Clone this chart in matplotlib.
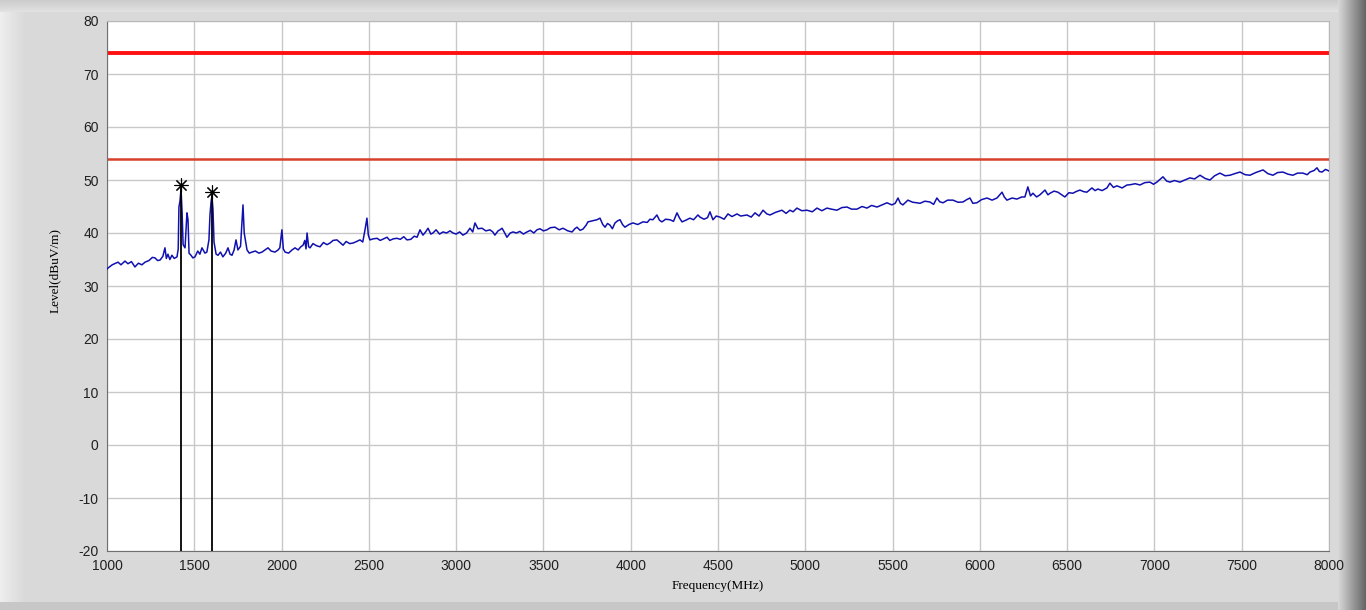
import numpy as np
import matplotlib
matplotlib.use("Agg")
import matplotlib.pyplot as plt

plt.rcParams["axes.unicode_minus"] = False

freq = [
    1000, 1006, 1030, 1063, 1080, 1103, 1120, 1140, 1160, 1180, 1200, 1218, 1240, 1260,
    1275, 1290, 1304, 1320, 1332, 1340, 1349, 1360, 1372, 1385, 1401, 1408, 1412, 1418,
    1424, 1430, 1436, 1447, 1458, 1464, 1470, 1481, 1492, 1504, 1520, 1532, 1544, 1561,
    1572, 1584, 1590, 1596, 1601, 1607, 1613, 1625, 1636, 1650, 1664, 1680, 1693, 1705,
    1716, 1728, 1739, 1750, 1765, 1773, 1779, 1786, 1802, 1815, 1831, 1850, 1870, 1888,
    1905, 1922, 1940, 1962, 1980, 1990, 2002, 2010, 2020, 2040, 2060, 2077, 2095, 2110,
    2123, 2133, 2140, 2146, 2155, 2163, 2180, 2200, 2220, 2240, 2260, 2277, 2295, 2317,
    2335, 2352, 2370, 2390, 2409, 2430, 2449, 2465, 2478, 2489, 2497, 2506, 2525, 2547,
    2565, 2585, 2604, 2620, 2640, 2661, 2680, 2700, 2718, 2740, 2760, 2776, 2793, 2810,
    2825, 2839, 2855, 2867, 2885, 2905, 2925, 2945, 2965, 2982, 3000, 3020, 3039, 3060,
    3079, 3095, 3108, 3125, 3148, 3170, 3194, 3210, 3222, 3240, 3251, 3263, 3275, 3291,
    3310, 3326, 3345, 3365, 3385, 3406, 3425, 3445, 3463, 3480, 3500, 3520, 3540, 3566,
    3590, 3612, 3640, 3664, 3680, 3692, 3710, 3727, 3745, 3755, 3780, 3807, 3824, 3840,
    3853, 3867, 3881, 3895, 3910, 3925, 3939, 3953, 3967, 3990, 4013, 4040, 4070, 4095,
    4110, 4127, 4150, 4165, 4179, 4200, 4225, 4245, 4265, 4280, 4294, 4315, 4339, 4360,
    4385, 4397, 4420, 4440, 4454, 4471, 4490, 4511, 4535, 4557, 4580, 4609, 4630, 4666,
    4690, 4712, 4735, 4758, 4780, 4798, 4830, 4866, 4890, 4912, 4930, 4952, 4980, 5010,
    5040, 5067, 5095, 5124, 5150, 5181, 5210, 5239, 5265, 5296, 5325, 5353, 5380, 5411,
    5440, 5468, 5496, 5515, 5531, 5545, 5559, 5588, 5615, 5640, 5657, 5685, 5714, 5735,
    5754, 5770, 5789, 5815, 5846, 5875, 5903, 5925, 5943, 5960, 5983, 6010, 6041, 6070,
    6098, 6127, 6140, 6155, 6185, 6212, 6240, 6258, 6275, 6290, 6304, 6325, 6344, 6373,
    6390, 6402, 6425, 6447, 6465, 6487, 6510, 6533, 6550, 6573, 6595, 6613, 6642, 6660,
    6676, 6700, 6728, 6745, 6765, 6785, 6815, 6843, 6860, 6890, 6917, 6945, 6974, 6995,
    7014, 7049, 7070, 7089, 7115, 7146, 7175, 7203, 7230, 7261, 7290, 7318, 7345, 7375,
    7405, 7433, 7460, 7490, 7520, 7547, 7580, 7622, 7650, 7679, 7705, 7736, 7765, 7793,
    7820, 7851, 7875, 7891, 7915, 7931, 7945, 7960, 7980, 8000,
]
level = [
    33.2, 33.4, 34.0, 34.5, 34.0, 34.7, 34.2, 34.6, 33.6, 34.3, 34.0, 34.5, 34.8, 35.4,
    35.3, 34.8, 34.9, 35.6, 37.2, 35.2, 36.0, 35.0, 35.8, 35.2, 35.5, 37.0, 44.9, 46.0,
    48.3, 44.0, 37.8, 37.2, 43.8, 42.5, 36.2, 35.8, 35.3, 35.5, 36.6, 36.0, 37.2, 36.2,
    36.4, 38.7, 43.5, 45.8, 47.0, 44.5, 38.3, 36.0, 35.8, 36.4, 35.5, 36.2, 37.2, 36.0,
    35.8, 36.8, 38.7, 36.8, 37.5, 42.0, 45.3, 40.0, 36.8, 36.2, 36.4, 36.6, 36.2, 36.4,
    36.8, 37.2, 36.6, 36.4, 36.8, 37.2, 40.6, 37.0, 36.4, 36.2, 36.8, 37.2, 36.8, 37.4,
    37.7, 38.6, 37.0, 40.0, 37.4, 37.2, 38.0, 37.6, 37.4, 38.2, 37.8, 38.1, 38.6, 38.7,
    38.2, 37.7, 38.4, 38.0, 38.1, 38.4, 38.7, 38.3, 40.6, 42.8, 39.6, 38.7, 38.9, 39.0,
    38.6, 38.9, 39.2, 38.6, 38.9, 39.0, 38.8, 39.3, 38.7, 38.8, 39.4, 39.2, 40.6, 39.6,
    40.2, 40.9, 39.8, 40.0, 40.6, 39.8, 40.2, 40.0, 40.4, 40.0, 39.8, 40.2, 39.6, 40.0,
    40.9, 40.2, 41.9, 40.8, 40.9, 40.4, 40.6, 40.2, 39.6, 40.4, 40.6, 40.9, 40.2, 39.2,
    40.0, 40.2, 40.0, 40.3, 39.8, 40.2, 40.5, 40.0, 40.6, 40.8, 40.4, 40.6, 41.0, 41.1,
    40.6, 40.9, 40.4, 40.2, 40.8, 41.1, 40.5, 40.75, 41.5, 42.1, 42.3, 42.5, 42.8, 41.6,
    41.1, 41.8, 41.5, 40.8, 41.9, 42.3, 42.5, 41.6, 41.1, 41.6, 41.9, 41.6, 42.1, 42.0,
    42.6, 42.5, 43.4, 42.4, 42.1, 42.6, 42.5, 42.2, 43.8, 42.8, 42.1, 42.4, 42.8, 42.5,
    43.4, 43.0, 42.6, 42.9, 44.0, 42.5, 43.2, 43.0, 42.6, 43.6, 43.1, 43.6, 43.2, 43.4,
    43.0, 43.8, 43.2, 44.3, 43.6, 43.4, 43.9, 44.3, 43.7, 44.3, 44.0, 44.7, 44.2, 44.3,
    44.0, 44.7, 44.2, 44.7, 44.5, 44.3, 44.8, 44.9, 44.5, 44.5, 45.0, 44.7, 45.2, 44.9,
    45.3, 45.7, 45.3, 45.6, 46.6, 45.6, 45.3, 46.2, 45.8, 45.7, 45.6, 46.0, 45.85, 45.4,
    46.6, 45.9, 45.7, 46.2, 46.2, 45.8, 45.85, 46.3, 46.6, 45.6, 45.7, 46.3, 46.6, 46.2,
    46.6, 47.7, 46.8, 46.2, 46.6, 46.4, 46.8, 46.8, 48.7, 47.0, 47.5, 46.8, 47.2, 48.1,
    47.2, 47.5, 47.9, 47.7, 47.3, 46.8, 47.6, 47.5, 47.8, 48.1, 47.8, 47.7, 48.5, 48.0,
    48.3, 48.0, 48.5, 49.4, 48.6, 48.9, 48.5, 49.06, 49.1, 49.3, 49.06, 49.5, 49.6, 49.2,
    49.6, 50.6, 49.8, 49.6, 49.9, 49.6, 50.0, 50.4, 50.2, 50.9, 50.3, 50.0, 50.8, 51.3,
    50.8, 50.9, 51.2, 51.5, 51.0, 50.9, 51.4, 51.9, 51.2, 50.9, 51.4, 51.5, 51.1, 50.9,
    51.3, 51.3, 51.0, 51.5, 51.8, 52.3, 51.6, 51.5, 52.0, 51.7,
]

# limit lines and marked peaks
limit_peak = 74
limit_avg = 54
marker_freq = [1424, 1601]
marker_level = [49.0, 47.8]

xticks = [1000, 1500, 2000, 2500, 3000, 3500, 4000, 4500, 5000, 5500, 6000, 6500, 7000, 7500, 8000]
yticks = [-20, -10, 0, 10, 20, 30, 40, 50, 60, 70, 80]

fig = plt.figure(figsize=(13.66, 6.10), dpi=100)
fig.patch.set_facecolor("#d8d8d8")

# gray window background with a dark shadow at the right edge
bg = fig.add_axes([0, 0, 1, 1], zorder=-10)
w = 1366
col = np.full(w, 0.85)
col[:25] = np.linspace(0.93, 0.85, 25)
col[-28:] = np.linspace(0.84, 0.40, 28)
img = np.tile(col, (610, 1))
img[:12, :-28] = np.linspace(0.80, 0.88, 12)[:, None]
img[-8:, :-28] = 0.78
bg.imshow(img, cmap="gray", vmin=0, vmax=1, aspect="auto", extent=[0, 1, 0, 1])
bg.axis("off")

ax = fig.add_axes([107 / 1366, 1 - 551 / 610, 1222 / 1366, 530 / 610])
ax.set_facecolor("white")

ax.plot(freq, level, color="#1010b0", lw=1.1, zorder=3)
ax.axhline(limit_peak, color="#ff1010", lw=2.8, zorder=2)
ax.axhline(limit_avg, color="#d8402c", lw=1.8, zorder=2)

# marker lines from the peaks down to the floor
ax.vlines(marker_freq, -20, marker_level, color="black", lw=1.3, zorder=4)
ax.plot(marker_freq, marker_level, linestyle="none", marker=(8, 2, 0),
        markersize=10, color="black", markeredgewidth=0.8, zorder=5)

ax.set_xlim(1000, 8000)
ax.set_ylim(-20, 80)
ax.set_xticks(xticks)
ax.set_yticks(yticks)
ax.grid(True, color="#c8c8c8", lw=1.0)
ax.set_axisbelow(True)
ax.tick_params(length=0, labelsize=10, colors="#202020", pad=6)
for lab in ax.get_xticklabels() + ax.get_yticklabels():
    lab.set_family("Liberation Sans")

for s in ["top", "right"]:
    ax.spines[s].set_color("#b8b8b8")
for s in ["left", "bottom"]:
    ax.spines[s].set_color("#707070")

ax.set_xlabel("Frequency(MHz)", family="Liberation Serif", fontsize=9.5, labelpad=5)
ax.set_ylabel("Level(dBuV/m)", family="Liberation Serif", fontsize=9.5)
ax.yaxis.set_label_coords(-0.038, 0.53)

fig.savefig("out.png", dpi=100)
